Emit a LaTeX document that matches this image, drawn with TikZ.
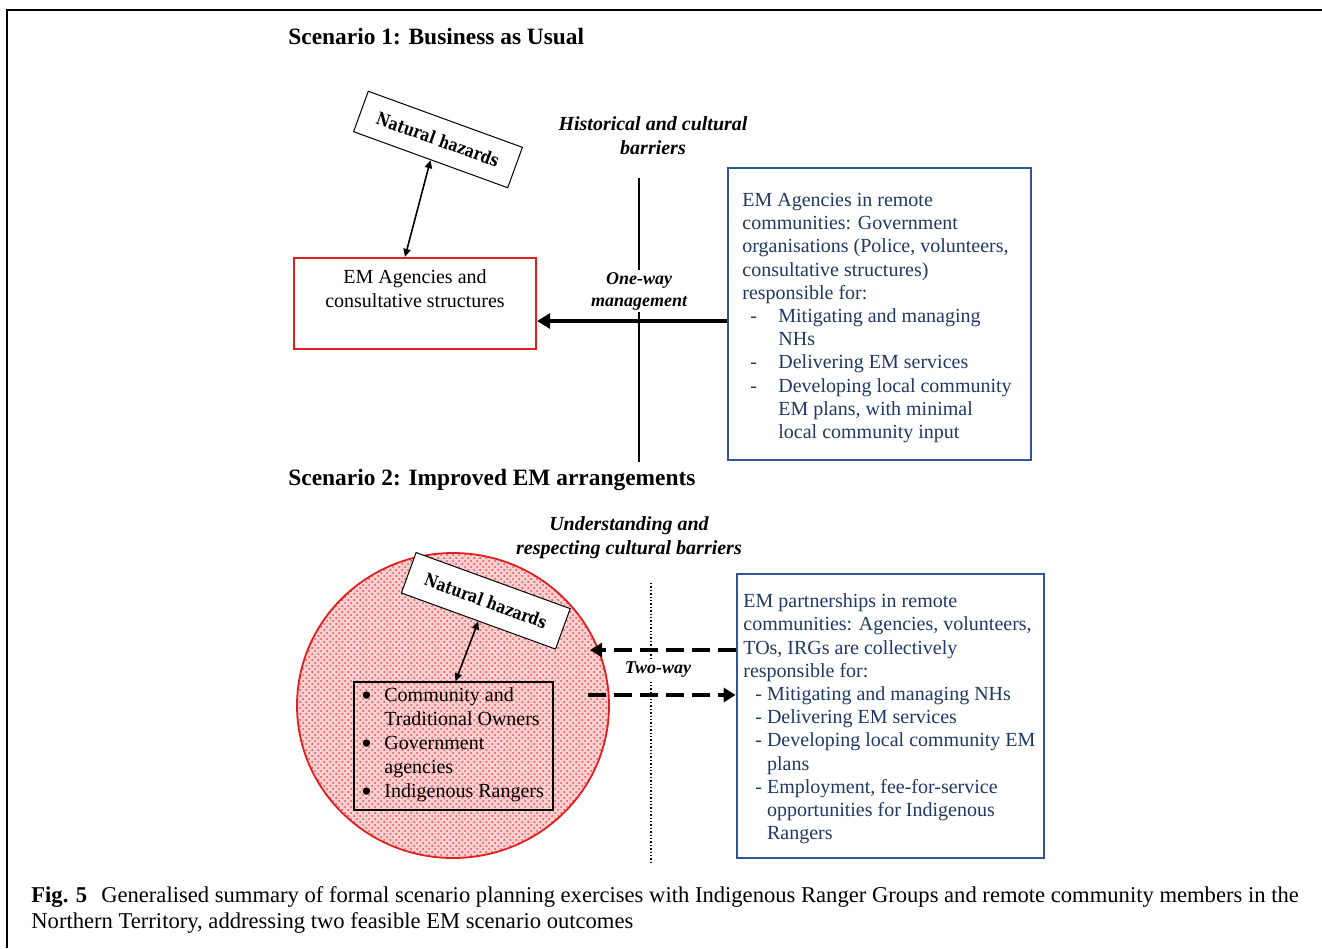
\documentclass[tikz,border=0pt]{standalone}
\usepackage{fontspec}
\setmainfont{Liberation Serif}
\newfontfamily\nhfont[FakeStretch=0.82]{DejaVu Serif}
\usetikzlibrary{arrows.meta,patterns,shapes.geometric}
\definecolor{navy}{HTML}{1F3864}
\definecolor{bluebd}{HTML}{2F5597}
\definecolor{redbd}{HTML}{E41E1E}
\newcommand{\bigbul}{\makebox[11.5pt][l]{\raisebox{-1.9pt}{\scalebox{1.5}{\textbullet}}}}
\begin{document}
\begin{tikzpicture}[x=0.5pt,y=-0.5pt,
  body/.style={font=\fontsize{10}{11.6}\selectfont, inner sep=0pt, align=left},
  bluetxt/.style={body, text=navy},
  title/.style={font=\fontsize{11.7}{14}\selectfont\bfseries, inner sep=0pt},
  barrier/.style={font=\fontsize{10}{12}\selectfont\bfseries\itshape, inner sep=0pt, align=center},
  flowlbl/.style={font=\fontsize{9}{11}\selectfont\bfseries\itshape, inner sep=1pt, align=center, fill=white},
  nhbox/.style={draw, fill=white, rotate=-20, line width=0.5pt, minimum width=82pt, minimum height=21.5pt, inner sep=0pt, font=\nhfont\fontsize{8.7}{10}\selectfont\bfseries},
  bluebox/.style={draw=bluebd, line width=1.4pt, inner sep=0pt},
  dbl/.style={{Triangle[length=4pt,width=3.6pt]}-{Triangle[length=4pt,width=3.6pt]}, line width=0.8pt},
  bigarrow/.style={-{Triangle[length=6.5pt,width=7.5pt]}, line width=2pt},
  dasharrow/.style={-{Triangle[length=6pt,width=7pt]}, line width=1.8pt, dash pattern=on 9pt off 4pt}
]
\useasboundingbox (0,0) rectangle (1322,948);
% frame
\draw[line width=1.1pt] (7,948) -- (7,10) -- (1322,10);

% ---------- Scenario 1 ----------
\node[title, anchor=base west] (s1) at (288,44) {Scenario 1: Business as Usual};
\node[barrier] (hist) at (653,136) {Historical and cultural\\barriers};

\node[draw=redbd, line width=1.1pt, minimum width=121pt, minimum height=45.5pt, inner sep=0pt] (em1) at (415,303.5) {};
\node[body, align=center, anchor=north, font=\fontsize{10}{12}\selectfont] (em1t) at ([yshift=-6pt]em1.north) {EM Agencies and\\consultative structures};

\node[nhbox] (nh1) at (438,139.5) {Natural hazards};
\draw[dbl] (nh1.south) -- ([xshift=-5pt]em1.north);

\node[bluebox, minimum width=151.5pt, minimum height=146pt] (bx1) at (879.5,314) {};
\node[bluetxt, anchor=base west] (bx1t) at (742,438.5) {EM Agencies in remote\\
communities: Government\\
organisations (Police, volunteers,\\
consultative structures)\\
responsible for:\\
\hspace*{4pt}\makebox[14pt][l]{-}Mitigating and managing\\
\hspace*{18pt}NHs\\
\hspace*{4pt}\makebox[14pt][l]{-}Delivering EM services\\
\hspace*{4pt}\makebox[14pt][l]{-}Developing local community\\
\hspace*{18pt}EM plans, with minimal\\
\hspace*{18pt}local community input};

\coordinate (vtop1) at (639,178);
\coordinate (vbot1) at (639,462);
\draw[line width=0.8pt] (vtop1) -- (vbot1);
\coordinate (ay1) at (0,321);
\draw[bigarrow] (bx1.west |- ay1) -- (em1.east |- ay1);
\node[flowlbl] (oneway) at (639,291) {One-way\\management};

% ---------- Scenario 2 ----------
\node[title, anchor=base west] (s2) at (288,485) {Scenario 2: Improved EM arrangements};
\node[barrier] (underst) at (629,538) {Understanding and\\respecting cultural barriers};

\node[ellipse, draw=redbd, line width=0.9pt, minimum width=156pt, minimum height=152.5pt, inner sep=0pt,
      preaction={fill={rgb,255:red,248;green,210;blue,210}},
      pattern=crosshatch dots, pattern color=red!75] (circ) at (453,705.5) {};

\node[draw, line width=0.7pt, minimum width=99.5pt, minimum height=64pt, inner sep=0pt] (grp) at (453.5,746) {};
\node[body, anchor=base west, font=\fontsize{10}{12}\selectfont] (grpt) at (361,797.7) {%
\bigbul Community and\\
\hspace*{11.5pt}Traditional Owners\\
\bigbul Government\\
\hspace*{11.5pt}agencies\\
\bigbul Indigenous Rangers};

\node[nhbox] (nh2) at (485.8,600.8) {Natural hazards};
\draw[dbl] (nh2.south) -- ([xshift=1pt]grp.north);

\node[bluebox, minimum width=153.5pt, minimum height=142pt] (bx2) at (890.5,716) {};
\node[bluetxt, anchor=base west] (bx2t) at (743,839.7) {EM partnerships in remote\\
communities: Agencies, volunteers,\\
TOs, IRGs are collectively\\
responsible for:\\
\hspace*{6pt}- Mitigating and managing NHs\\
\hspace*{6pt}- Delivering EM services\\
\hspace*{6pt}- Developing local community EM\\
\hspace*{6pt}\phantom{- }plans\\
\hspace*{6pt}- Employment, fee-for-service\\
\hspace*{6pt}\phantom{- }opportunities for Indigenous\\
\hspace*{6pt}\phantom{- }Rangers};

\coordinate (vtop2) at (651,583);
\coordinate (vbot2) at (651,862);
\draw[line width=0.8pt, dash pattern=on 0.7pt off 1pt] (vtop2) -- (vbot2);
\coordinate (ay2) at (0,650);
\coordinate (ay3) at (0,695);
\coordinate (tipL) at (590,650);
\coordinate (startR) at (588,695);
\draw[dasharrow] (bx2.west |- ay2) -- (tipL);
\draw[dasharrow] (startR) -- (bx2.west |- ay3);
\node[flowlbl] (twoway) at (658,670) {Two-way};

% ---------- caption ----------
\node[anchor=base west, inner sep=0pt, align=left, font=\fontsize{11.3}{13}\selectfont] (cap) at (31,928) {\textbf{Fig. 5}\hspace{7pt}Generalised summary of formal scenario planning exercises with Indigenous Ranger Groups and remote community members in the\\
Northern Territory, addressing two feasible EM scenario outcomes};
\end{tikzpicture}
\end{document}
